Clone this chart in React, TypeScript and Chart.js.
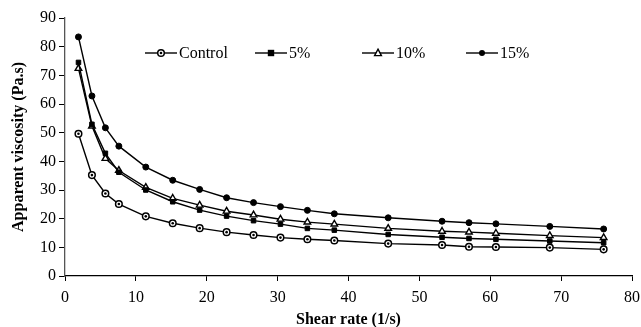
import React, { useEffect, useRef } from "react";
import { Chart, registerables } from "chart.js";

Chart.register(...registerables);

const shearRates = [1.9, 3.8, 5.7, 7.6, 11.4, 15.2, 19, 22.8, 26.6, 30.4, 34.2, 38, 45.6, 53.2, 57, 60.8, 68.4, 76];
const control = [49.6, 35.2, 28.8, 25.1, 20.8, 18.4, 16.7, 15.3, 14.3, 13.4, 12.8, 12.4, 11.3, 10.8, 10.2, 10.1, 9.9, 9.3];
const pct5 = [74.5, 52.9, 42.8, 36.2, 30.0, 25.9, 23.0, 20.9, 19.3, 18.1, 16.6, 16.0, 14.5, 13.5, 13.1, 12.8, 12.2, 11.6];
const pct10 = [72.4, 52.3, 41.0, 36.8, 30.9, 27.1, 24.7, 22.6, 21.3, 19.8, 18.8, 18.1, 16.6, 15.6, 15.3, 14.9, 14.1, 13.4];
const pct15 = [83.4, 62.8, 51.7, 45.3, 38.0, 33.4, 30.2, 27.3, 25.6, 24.2, 22.9, 21.7, 20.3, 19.1, 18.6, 18.2, 17.3, 16.4];
const seriesNames = ["Control", "5%", "10%", "15%"];

const FONT = "'Liberation Serif', 'Times New Roman', serif";

export default function App() {
  const ref = useRef<HTMLCanvasElement>(null);
  useEffect(() => {
    const pts = (ys: number[]) => shearRates.map((x, i) => ({ x, y: ys[i] }));
    const base = { borderColor: "#000", borderWidth: 1.4, showLine: true, tension: 0 };
    const datasets: any[] = [
      { ...base, label: seriesNames[0], data: pts(control), pointStyle: "circle", pointRadius: 3.3, backgroundColor: "#fff", pointBorderColor: "#000", pointBorderWidth: 1.5 },
      { ...base, label: seriesNames[1], data: pts(pct5), pointStyle: "rect", pointRadius: 3.2, backgroundColor: "#000", pointBorderColor: "#000", pointBorderWidth: 1 },
      { ...base, label: seriesNames[2], data: pts(pct10), pointStyle: "triangle", pointRadius: 3.8, backgroundColor: "#fff", pointBorderColor: "#000", pointBorderWidth: 1.4 },
      { ...base, label: seriesNames[3], data: pts(pct15), pointStyle: "circle", pointRadius: 3, backgroundColor: "#000", pointBorderColor: "#000", pointBorderWidth: 1 },
    ];

    const dotPlugin = {
      id: "controlDots",
      afterDatasetsDraw(chart: any) {
        const ctx = chart.ctx;
        ctx.save();
        ctx.fillStyle = "#000";
        chart.getDatasetMeta(0).data.forEach((el: any) => {
          ctx.beginPath();
          ctx.arc(el.x, el.y, 1.3, 0, Math.PI * 2);
          ctx.fill();
        });
        ctx.restore();
      },
    };

    const legendPlugin = {
      id: "customLegend",
      afterDatasetsDraw(chart: any) {
        const ctx = chart.ctx;
        const y = 53;
        const starts = [145, 255, 362, 466];
        ctx.save();
        chart.data.datasets.forEach((ds: any, i: number) => {
          const x0 = starts[i];
          const x1 = x0 + 32;
          ctx.beginPath();
          ctx.moveTo(x0, y);
          ctx.lineTo(x1, y);
          ctx.strokeStyle = "#000";
          ctx.lineWidth = 1.4;
          ctx.stroke();
          const mx = (x0 + x1) / 2;
          ctx.strokeStyle = "#000";
          if (i === 0) {
            ctx.beginPath();
            ctx.arc(mx, y, 3.3, 0, Math.PI * 2);
            ctx.fillStyle = "#fff";
            ctx.fill();
            ctx.lineWidth = 1.5;
            ctx.stroke();
            ctx.beginPath();
            ctx.arc(mx, y, 1.3, 0, Math.PI * 2);
            ctx.fillStyle = "#000";
            ctx.fill();
          } else if (i === 1) {
            ctx.fillStyle = "#000";
            ctx.fillRect(mx - 3.2, y - 3.2, 6.4, 6.4);
          } else if (i === 2) {
            ctx.beginPath();
            ctx.moveTo(mx, y - 3.8);
            ctx.lineTo(mx + 3.4, y + 2.6);
            ctx.lineTo(mx - 3.4, y + 2.6);
            ctx.closePath();
            ctx.fillStyle = "#fff";
            ctx.fill();
            ctx.lineWidth = 1.4;
            ctx.stroke();
          } else {
            ctx.beginPath();
            ctx.arc(mx, y, 3, 0, Math.PI * 2);
            ctx.fillStyle = "#000";
            ctx.fill();
          }
          ctx.fillStyle = "#000";
          ctx.font = `16px ${FONT}`;
          ctx.textBaseline = "middle";
          ctx.textAlign = "left";
          ctx.fillText(ds.label, x1 + 2, y + 1);
        });
        ctx.restore();
      },
    };

    const chart = new Chart(ref.current!, {
      type: "scatter",
      data: { datasets },
      options: {
        animation: false,
        responsive: false,
        layout: { padding: { top: 18, right: 9, left: 0, bottom: 0 } },
        plugins: { legend: { display: false }, tooltip: { enabled: false } },
        scales: {
          x: {
            type: "linear",
            min: 0,
            max: 80,
            afterFit: (s: any) => { s.height = 51; s.paddingRight = 0; s.paddingLeft = 0; },
            ticks: { stepSize: 10, color: "#000", font: { family: FONT, size: 16 }, padding: 7, maxRotation: 0 },
            grid: { drawOnChartArea: false, drawTicks: true, tickLength: 5, color: "#000" },
            border: { color: "#000", width: 1.3 },
            title: { display: true, text: "Shear rate (1/s)", color: "#000", font: { family: FONT, size: 16, weight: "bold" }, padding: { top: 4, bottom: -2 } },
          },
          y: {
            type: "linear",
            min: 0,
            max: 90,
            afterFit: (s: any) => { s.width = 65; s.paddingTop = 0; s.paddingBottom = 0; },
            ticks: { stepSize: 10, color: "#000", font: { family: FONT, size: 16 }, padding: 3 },
            grid: { drawOnChartArea: false, drawTicks: true, tickLength: 6, color: "#000" },
            border: { color: "#555", width: 1.3 },
            title: { display: true, text: "Apparent viscosity (Pa.s)", color: "#000", font: { family: FONT, size: 16, weight: "bold" }, padding: { top: 9, bottom: 4 } },
          },
        },
      },
      plugins: [dotPlugin, legendPlugin],
    });
    return () => chart.destroy();
  }, []);
  return (
    <div style={{ position: "absolute", left: 0, top: 0, width: 641, height: 327, background: "#fff" }}>
      <canvas ref={ref} width={641} height={327} style={{ width: 641, height: 327, display: "block" }} />
    </div>
  );
}
